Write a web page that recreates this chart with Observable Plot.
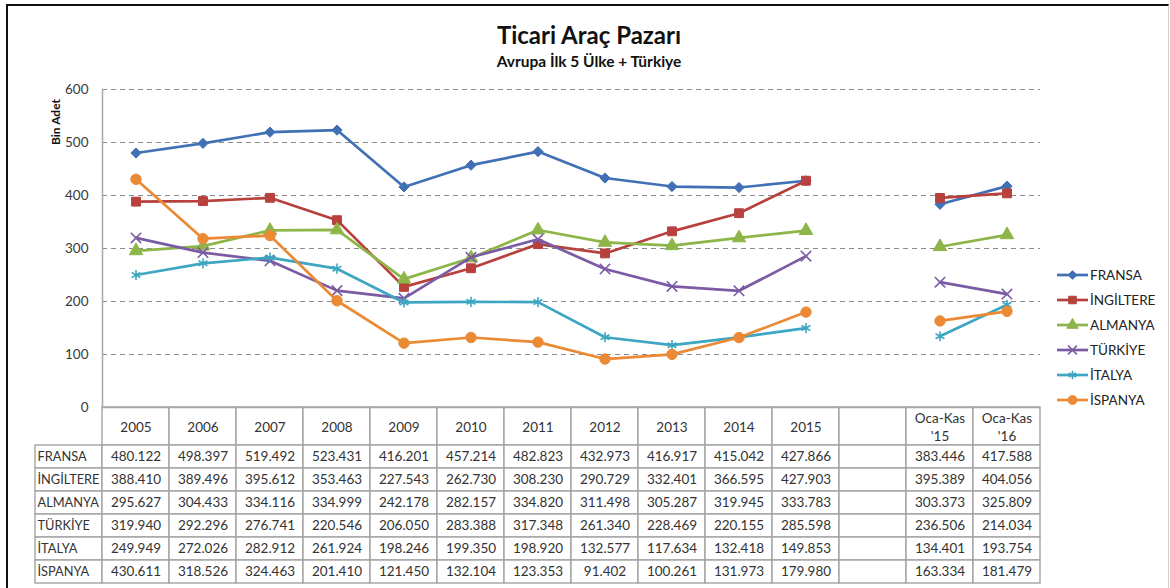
<!DOCTYPE html>
<html>
<head>
<meta charset="utf-8">
<script src="https://cdn.jsdelivr.net/npm/d3@7"></script>
<script src="https://cdn.jsdelivr.net/npm/@observablehq/plot@0.6"></script>
<style>
  html, body { margin: 0; padding: 0; background: #fff; }
  #wrap { position: relative; width: 1170px; height: 588px; overflow: hidden; background: #fff;
          font-family: Lato, "Open Sans", sans-serif; color: #1a1a1a; }
  #frame { position: absolute; left: 6px; top: 4px; width: 1160px; height: 620px;
           border-left: 2.5px solid #111; border-top: 2.5px solid #111; border-right: 1px solid #d0d0d0; }
  #title { position: absolute; left: 6px; width: 1166px; top: 21px; text-align: center;
           font-weight: 700; font-size: 24px; line-height: 28px; color: #111; }
  #subtitle { position: absolute; left: 6px; width: 1166px; top: 51px; text-align: center;
              font-weight: 700; font-size: 15.5px; line-height: 20px; color: #111; }
  #ylabel { position: absolute; left: 55px; top: 122px; transform: translate(-50%, -50%) rotate(-90deg);
            font-weight: 700; font-size: 12px; white-space: nowrap; color: #111; }
  .layer { position: absolute; left: 0; }
  #legend { position: absolute; left: 1057px; top: 262px; font-size: 13.5px; color: #222; }
  #legend .item { height: 25px; display: flex; align-items: center; }
  #legend svg { margin-right: 2px; overflow: visible; }
</style>
</head>
<body>
<div id="wrap">
  <div id="frame"></div>
  <div id="title">Ticari Araç Pazarı</div>
  <div id="subtitle">Avrupa İlk 5 Ülke + Türkiye</div>
  <div id="ylabel">Bin Adet</div>
  <div id="header" class="layer" style="top:406px"></div>
  <div id="body" class="layer" style="top:444px"></div>
  <div id="main" class="layer" style="top:0px"></div>
  <div id="legend"></div>
</div>
<script>
// ---- data (thousand units) ----
const categories = ["2005","2006","2007","2008","2009","2010","2011","2012","2013","2014","2015","gap","Oca-Kas '15","Oca-Kas '16"];
const headerLabels = ["2005","2006","2007","2008","2009","2010","2011","2012","2013","2014","2015","","Oca-Kas\n'15","Oca-Kas\n'16"];
const series = ["FRANSA","İNGİLTERE","ALMANYA","TÜRKİYE","İTALYA","İSPANYA"];
const fransa    = [480.122, 498.397, 519.492, 523.431, 416.201, 457.214, 482.823, 432.973, 416.917, 415.042, 427.866, null, 383.446, 417.588];
const ingiltere = [388.410, 389.496, 395.612, 353.463, 227.543, 262.730, 308.230, 290.729, 332.401, 366.595, 427.903, null, 395.389, 404.056];
const almanya   = [295.627, 304.433, 334.116, 334.999, 242.178, 282.157, 334.820, 311.498, 305.287, 319.945, 333.783, null, 303.373, 325.809];
const turkiye   = [319.940, 292.296, 276.741, 220.546, 206.050, 283.388, 317.348, 261.340, 228.469, 220.155, 285.598, null, 236.506, 214.034];
const italya    = [249.949, 272.026, 282.912, 261.924, 198.246, 199.350, 198.920, 132.577, 117.634, 132.418, 149.853, null, 134.401, 193.754];
const ispanya   = [430.611, 318.526, 324.463, 201.410, 121.450, 132.104, 123.353,  91.402, 100.261, 131.973, 179.980, null, 163.334, 181.479];
const yTicks = [0, 100, 200, 300, 400, 500, 600];

const values = [fransa, ingiltere, almanya, turkiye, italya, ispanya];

// ---- styles ----
const look = {
  colors: ["#4170B5", "#B8403D", "#8EB548", "#7B5BA3", "#3DA6C2", "#EB8A35"],
  symbols: ["diamond2", "square", "triangle", "times", "asterisk", "circle"],
  radius: [4.6, 5.0, 5.0, 4.8, 4.8, 5.2],
  filled: [true, true, true, false, false, true]
};
const d3Sym = {diamond2: d3.symbolDiamond2, square: d3.symbolSquare, triangle: d3.symbolTriangle,
               times: d3.symbolTimes, asterisk: d3.symbolAsterisk, circle: d3.symbolCircle};
const font = "Lato, 'Open Sans', sans-serif";
const svgStyle = {background: "transparent", overflow: "visible", fontFamily: font, fontSize: "13px", color: "#333"};

const rows = series.flatMap((s, i) => categories.map((c, j) => ({series: s, cat: c, value: values[i][j]})));
const fmt = d3.format(".3f");

// ---- main chart ----
const main = Plot.plot({
  width: 1170, height: 420,
  marginLeft: 102, marginRight: 130, marginTop: 89, marginBottom: 13,
  x: {type: "band", domain: categories, padding: 0, axis: null},
  y: {domain: [0, 600], axis: null},
  style: svgStyle,
  marks: [
    Plot.ruleY(yTicks.filter(t => t > 0), {stroke: "#8a8a8a", strokeWidth: 1.2, strokeDasharray: "5,4"}),
    Plot.ruleY([0], {stroke: "#a8a8a8", strokeWidth: 1.5}),
    Plot.frame({anchor: "left", stroke: "#a8a8a8", strokeWidth: 1.5}),
    Plot.axisY({ticks: yTicks, tickSize: 0, tickPadding: 14, label: null, fill: "#3a3a3a", fontSize: 13.5}),
    ...series.flatMap((s, i) => {
      const d = rows.filter(r => r.series === s);
      return [
        Plot.line(d, {x: "cat", y: "value", stroke: look.colors[i], strokeWidth: 2.7}),
        Plot.dot(d.filter(r => r.value != null), {
          x: "cat", y: "value", symbol: look.symbols[i], r: look.radius[i],
          fill: look.filled[i] ? look.colors[i] : "none",
          stroke: look.colors[i], strokeWidth: look.filled[i] ? 1 : 1.6
        })
      ];
    })
  ]
});
document.getElementById("main").append(main);

// ---- table header ----
const header = Plot.plot({
  width: 1170, height: 40,
  marginLeft: 102, marginRight: 130, marginTop: 1, marginBottom: 1,
  x: {type: "band", domain: categories, padding: 0, axis: null},
  style: svgStyle,
  marks: [
    Plot.cell(categories, {x: d => d, fill: "white", stroke: "#a3a3a3", strokeWidth: 1.4}),
    Plot.text(categories, {x: d => d, text: (d, i) => headerLabels[i], fontSize: 13.5, lineHeight: 1.3, fill: "#333"})
  ]
});
document.getElementById("header").append(header);

// ---- table body ----
const cols = ["label", ...categories];
const cellRows = series.flatMap(s => cols.map(c => ({series: s, col: c})));
const body = Plot.plot({
  width: 1170, height: 140,
  marginLeft: 35, marginRight: 130, marginTop: 1, marginBottom: 1,
  x: {type: "band", domain: cols, padding: 0, axis: null},
  y: {type: "band", domain: series, padding: 0, axis: null},
  style: svgStyle,
  marks: [
    Plot.cell(cellRows, {x: "col", y: "series", fill: "white", stroke: "#a3a3a3", strokeWidth: 1.4}),
    Plot.text(rows.filter(r => r.value != null), {x: "cat", y: "series", text: r => fmt(r.value), fontSize: 13.5, fill: "#333"}),
    Plot.text(series, {x: () => "label", y: d => d, text: d => d, textAnchor: "start", dx: -31.5, fontSize: 12.8, fill: "#333"})
  ]
});
document.getElementById("body").append(body);

// ---- legend ----
const legend = d3.select("#legend");
series.forEach((s, i) => {
  const item = legend.append("div").attr("class", "item");
  const svg = item.append("svg").attr("width", 31).attr("height", 14);
  svg.append("line").attr("x1", 0).attr("x2", 31).attr("y1", 7).attr("y2", 7)
    .attr("stroke", look.colors[i]).attr("stroke-width", 2.7);
  const r = look.radius[i] * 0.85;
  svg.append("path")
    .attr("transform", "translate(15.5,7)")
    .attr("d", d3.symbol(d3Sym[look.symbols[i]], Math.PI * r * r)())
    .attr("fill", look.filled[i] ? look.colors[i] : "none")
    .attr("stroke", look.colors[i]).attr("stroke-width", look.filled[i] ? 1 : 1.6);
  item.append("span").text(s);
});
</script>
</body>
</html>
